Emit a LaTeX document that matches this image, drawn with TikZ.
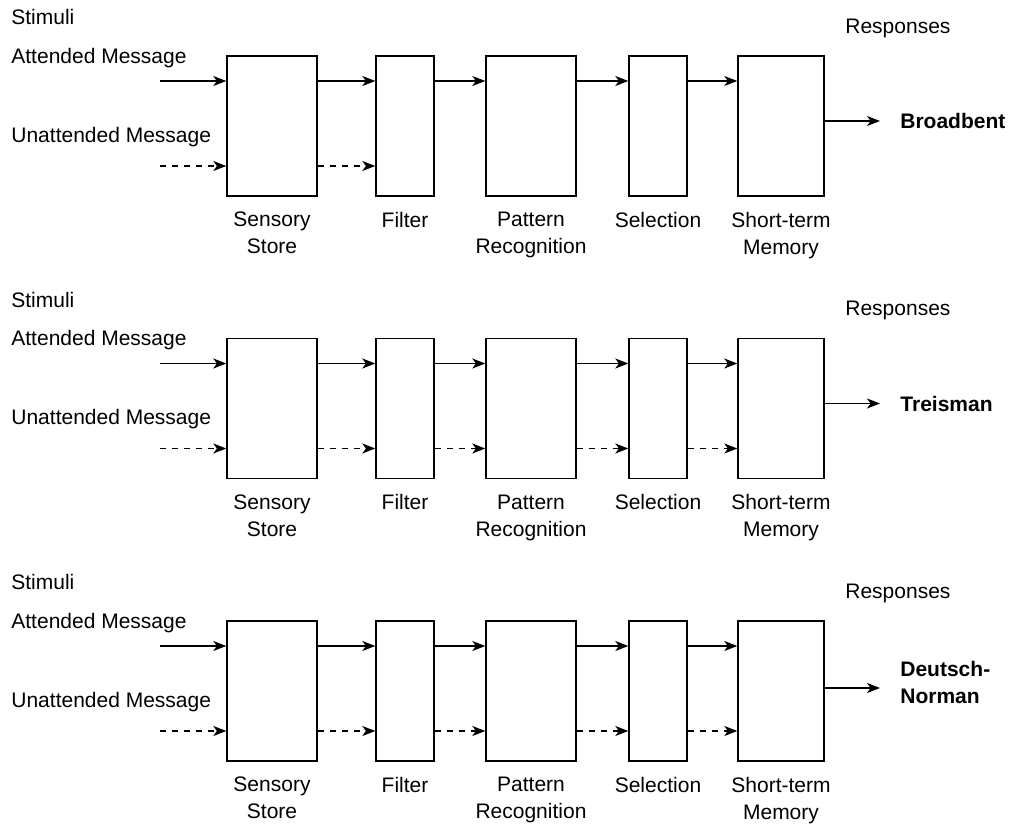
\documentclass[tikz,border=0pt]{standalone}
\usepackage{fontspec}
\setmainfont{Liberation Sans}
\usetikzlibrary{positioning,arrows.meta}
\tikzset{
  box/.style={draw, line width=0.7pt, minimum height=70pt, inner sep=0pt},
  wide/.style={box, minimum width=45pt},
  narrow/.style={box, minimum width=29pt},
  lbl/.style={align=center, inner sep=0pt},
  txt/.style={anchor=west, inner sep=0pt},
  arr/.style={-{Stealth[length=6.5pt,width=5pt,inset=1.8pt]}, line width=0.7pt},
  darr/.style={arr, dash pattern=on 3pt off 3pt},
}
\begin{document}
\begin{tikzpicture}[x=0.5pt, y=-0.5pt,
    every node/.append style={font=\fontsize{10.5}{13.5}\selectfont}]
  \useasboundingbox (0,0) rectangle (1013,824);

  % Broadbent
  \node[txt] (st1t) at (11,17) {Stimuli};
  \node[txt] (at1t) at (11,58) {Attended Message};
  \node[txt] (un1t) at (11,137) {Unattended Message};
  \node[txt] (re1t) at (845,28) {Responses};
  \node[wide] (st1) at (272,126) {};
  \node[narrow] (fi1) at (405,126) {};
  \node[wide] (pr1) at (531,126) {};
  \node[narrow] (se1) at (658,126) {};
  \node[box, minimum width=43pt] (me1) at (781,126) {};
  \node[lbl, below=7.5pt of st1] {Sensory\\Store};
  \node[lbl, below=7.5pt of fi1] {Filter};
  \node[lbl, below=7.5pt of pr1] {Pattern\\Recognition};
  \node[lbl, below=7.5pt of se1] {Selection};
  \node[lbl, below=7.5pt of me1] {Short-term\\Memory};
  \coordinate (a1) at (160,81);
  \coordinate (u1) at (160,166);
  \coordinate (o1) at (880,121);
  \node[txt, font=\fontsize{10.5}{13.5}\selectfont\bfseries] (bb) at (900,121) {Broadbent};
  \draw[arr] (a1) -- (a1 -| st1.west);
  \draw[darr] (u1) -- (u1 -| st1.west);
  \draw[arr] (a1 -| st1.east) -- (a1 -| fi1.west);
  \draw[arr] (a1 -| fi1.east) -- (a1 -| pr1.west);
  \draw[arr] (a1 -| pr1.east) -- (a1 -| se1.west);
  \draw[arr] (a1 -| se1.east) -- (a1 -| me1.west);
  \draw[darr] (u1 -| st1.east) -- (u1 -| fi1.west);
  \draw[arr] (o1 -| me1.east) -- (o1);

  % Treisman
  \node[txt] (st2t) at (11,299.5) {Stimuli};
  \node[txt] (at2t) at (11,340.5) {Attended Message};
  \node[txt] (un2t) at (11,419.5) {Unattended Message};
  \node[txt] (re2t) at (845,310.5) {Responses};
  \node[wide] (st2) at (272,408.5) {};
  \node[narrow] (fi2) at (405,408.5) {};
  \node[wide] (pr2) at (531,408.5) {};
  \node[narrow] (se2) at (658,408.5) {};
  \node[box, minimum width=43pt] (me2) at (781,408.5) {};
  \node[lbl, below=7.5pt of st2] {Sensory\\Store};
  \node[lbl, below=7.5pt of fi2] {Filter};
  \node[lbl, below=7.5pt of pr2] {Pattern\\Recognition};
  \node[lbl, below=7.5pt of se2] {Selection};
  \node[lbl, below=7.5pt of me2] {Short-term\\Memory};
  \coordinate (a2) at (160,363.5);
  \coordinate (u2) at (160,448.5);
  \coordinate (o2) at (880,403.5);
  \node[txt, font=\fontsize{10.5}{13.5}\selectfont\bfseries] (tr) at (900,403.5) {Treisman};
  \draw[arr] (a2) -- (a2 -| st2.west);
  \draw[darr] (u2) -- (u2 -| st2.west);
  \draw[arr] (a2 -| st2.east) -- (a2 -| fi2.west);
  \draw[arr] (a2 -| fi2.east) -- (a2 -| pr2.west);
  \draw[arr] (a2 -| pr2.east) -- (a2 -| se2.west);
  \draw[arr] (a2 -| se2.east) -- (a2 -| me2.west);
  \draw[darr] (u2 -| st2.east) -- (u2 -| fi2.west);
  \draw[darr] (u2 -| fi2.east) -- (u2 -| pr2.west);
  \draw[darr] (u2 -| pr2.east) -- (u2 -| se2.west);
  \draw[darr] (u2 -| se2.east) -- (u2 -| me2.west);
  \draw[arr] (o2 -| me2.east) -- (o2);

  % Deutsch-Norman
  \node[txt] (st3t) at (11,582) {Stimuli};
  \node[txt] (at3t) at (11,623) {Attended Message};
  \node[txt] (un3t) at (11,702) {Unattended Message};
  \node[txt] (re3t) at (845,593) {Responses};
  \node[wide] (st3) at (272,691) {};
  \node[narrow] (fi3) at (405,691) {};
  \node[wide] (pr3) at (531,691) {};
  \node[narrow] (se3) at (658,691) {};
  \node[box, minimum width=43pt] (me3) at (781,691) {};
  \node[lbl, below=7.5pt of st3] {Sensory\\Store};
  \node[lbl, below=7.5pt of fi3] {Filter};
  \node[lbl, below=7.5pt of pr3] {Pattern\\Recognition};
  \node[lbl, below=7.5pt of se3] {Selection};
  \node[lbl, below=7.5pt of me3] {Short-term\\Memory};
  \coordinate (a3) at (160,646);
  \coordinate (u3) at (160,731);
  \coordinate (o3) at (880,688);
  \node[txt, align=left, font=\fontsize{10.5}{13.5}\selectfont\bfseries] (dn) at (900,682) {Deutsch-\\Norman};
  \draw[arr] (a3) -- (a3 -| st3.west);
  \draw[darr] (u3) -- (u3 -| st3.west);
  \draw[arr] (a3 -| st3.east) -- (a3 -| fi3.west);
  \draw[arr] (a3 -| fi3.east) -- (a3 -| pr3.west);
  \draw[arr] (a3 -| pr3.east) -- (a3 -| se3.west);
  \draw[arr] (a3 -| se3.east) -- (a3 -| me3.west);
  \draw[darr] (u3 -| st3.east) -- (u3 -| fi3.west);
  \draw[darr] (u3 -| fi3.east) -- (u3 -| pr3.west);
  \draw[darr] (u3 -| pr3.east) -- (u3 -| se3.west);
  \draw[darr] (u3 -| se3.east) -- (u3 -| me3.west);
  \draw[arr] (o3 -| me3.east) -- (o3);
\end{tikzpicture}
\end{document}
